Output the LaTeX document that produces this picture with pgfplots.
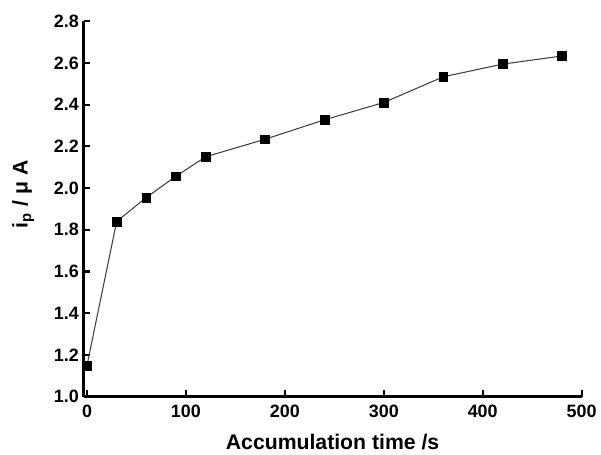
\documentclass[border=0pt]{standalone}
\usepackage{fontspec}
\setmainfont{Liberation Sans}
\usepackage{pgfplots}
\pgfplotsset{compat=1.18}
\begin{document}
\begin{tikzpicture}
\begin{axis}[
  at={(0pt,0pt)}, anchor=south west,
  scale only axis,
  width=375.75pt, height=283.3pt,
  xmin=-3.5, xmax=500,
  ymin=1.0, ymax=2.8,
  axis x line*=bottom, axis y line*=left,
  axis line style={line width=2.2pt, -},
  xtick={0,100,...,500},
  ytick={1.0,1.2,...,2.8},
  tick align=inside,
  major tick length=5pt,
  tick style={line width=1.6pt, black},
  yticklabel style={/pgf/number format/.cd, fixed, fixed zerofill, precision=1},
  /pgf/number format/assume math mode=true,
  tick label style={font=\fontsize{13.5}{15}\selectfont\bfseries},
  xticklabel style={yshift=-3pt},
  xlabel={Accumulation time /s},
  ylabel={i\textsubscript{p} / μ A},
  label style={font=\fontsize{16}{18}\selectfont\bfseries},
  xlabel style={yshift=-5pt},
  ylabel style={yshift=8pt, xshift=11pt},
]
\addplot[black!75, line width=0.8pt, mark=square*, mark size=3.3pt,
  mark options={fill=black, draw=black, line width=0.4pt}]
  coordinates {
  (0,1.15) (30,1.84) (60,1.955) (90,2.057) (120,2.15) (180,2.234)
  (240,2.327) (300,2.41) (360,2.533) (420,2.594) (480,2.633)
  };
\end{axis}
\path (-63pt,-40.5pt) rectangle (387.75pt,299.25pt);
\end{tikzpicture}
\end{document}
